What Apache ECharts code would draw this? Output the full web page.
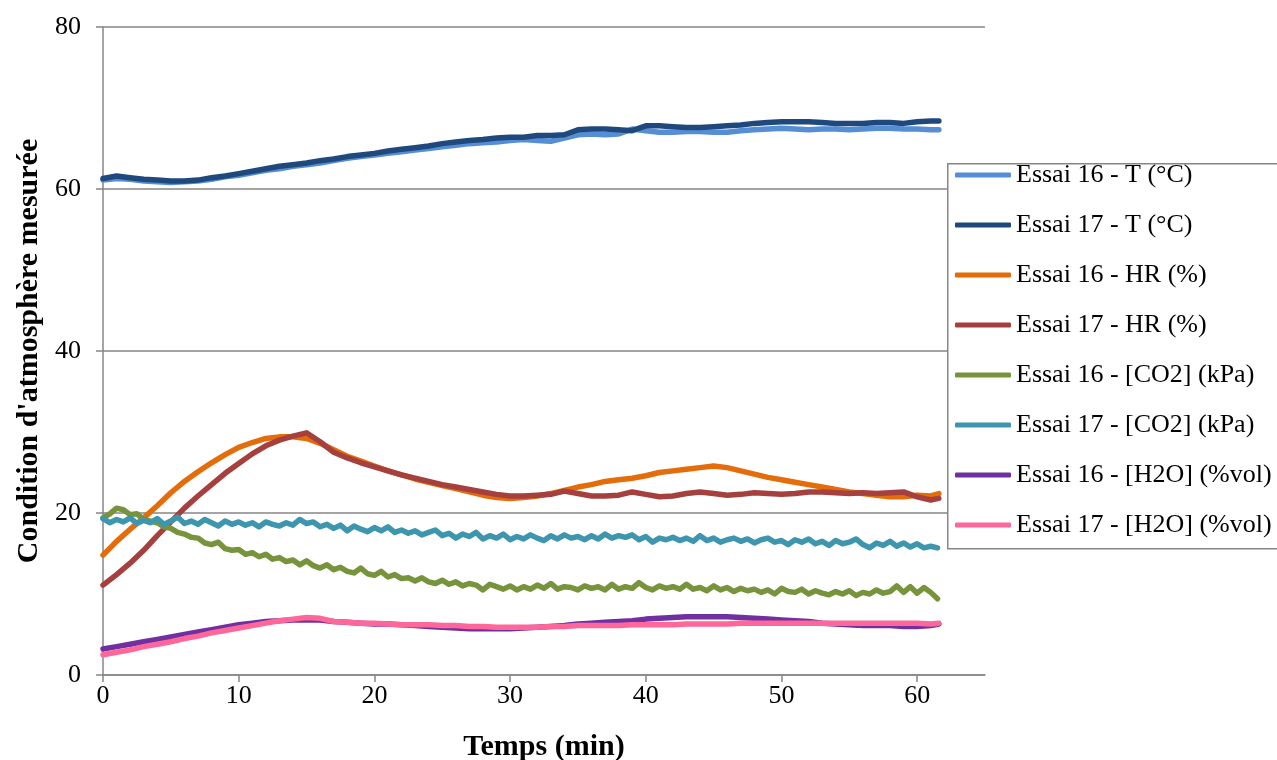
<!DOCTYPE html>
<html>
<head>
<meta charset="utf-8">
<script src="https://cdn.jsdelivr.net/npm/echarts@6/dist/echarts.min.js"></script>
<style>
html,body{margin:0;padding:0;background:#fff;}
#chart{width:1277px;height:760px;}
</style>
</head>
<body>
<div id="chart"></div>
<script>
// Sampling grids (minutes)
var timeCoarse = [0,1,2,3,4,5,6,7,8,9,10,11,12,13,14,15,16,17,18,19,20,21,22,23,24,25,26,27,28,29,30,31,32,33,34,35,36,37,38,39,40,41,42,43,44,45,46,47,48,49,50,51,52,53,54,55,56,57,58,59,60,61,61.6];
var timeFine = [];
for (var i = 0; i < 124; i++) timeFine.push(i * 0.5);

var seriesNames = ["Essai 16 - T (°C)","Essai 17 - T (°C)","Essai 16 - HR (%)","Essai 17 - HR (%)","Essai 16 - [CO2] (kPa)","Essai 17 - [CO2] (kPa)","Essai 16 - [H2O] (%vol)","Essai 17 - [H2O] (%vol)"];
var seriesColors = ["#558ED5","#1F497D","#E46C0A","#A5403E","#77933C","#3E96AE","#7030A0","#FF6699"];

var t16 = [61.1,61.3,61.2,61.0,60.9,60.8,60.9,61.0,61.2,61.5,
 61.7,62.0,62.3,62.5,62.8,63.0,63.2,63.5,63.8,64.0,
 64.2,64.4,64.6,64.8,65.0,65.2,65.4,65.6,65.7,65.8,
 66.0,66.1,66.0,65.9,66.3,66.7,66.8,66.7,66.8,67.4,
 67.2,67.0,67.0,67.1,67.1,67.0,67.0,67.2,67.3,67.4,
 67.5,67.4,67.3,67.4,67.4,67.3,67.4,67.5,67.5,67.4,
 67.4,67.3,67.3];
var t17 = [61.3,61.6,61.4,61.2,61.1,61.0,61.0,61.1,61.4,61.6,
 61.9,62.2,62.5,62.8,63.0,63.2,63.5,63.7,64.0,64.2,
 64.4,64.7,64.9,65.1,65.3,65.6,65.8,66.0,66.1,66.3,
 66.4,66.4,66.6,66.6,66.7,67.3,67.4,67.4,67.3,67.2,
 67.8,67.8,67.7,67.6,67.6,67.7,67.8,67.9,68.1,68.2,
 68.3,68.3,68.3,68.2,68.1,68.1,68.1,68.2,68.2,68.1,
 68.3,68.4,68.4];
var hr16 = [14.8,16.5,18.0,19.4,20.9,22.5,23.9,25.1,26.2,27.2,
 28.1,28.7,29.2,29.4,29.4,29.2,28.6,27.8,27.0,26.4,
 25.8,25.2,24.7,24.2,23.8,23.4,23.0,22.6,22.2,21.9,
 21.8,21.9,22.1,22.4,22.8,23.2,23.5,23.9,24.1,24.3,
 24.6,25.0,25.2,25.4,25.6,25.8,25.6,25.2,24.8,24.4,
 24.1,23.8,23.5,23.2,22.9,22.6,22.4,22.2,22.0,22.0,
 22.2,22.1,22.4];
var hr17 = [11.1,12.4,13.8,15.4,17.2,18.9,20.6,22.1,23.5,24.9,
 26.1,27.3,28.3,29.0,29.5,29.9,28.8,27.5,26.8,26.2,
 25.7,25.2,24.7,24.3,23.9,23.5,23.2,22.9,22.6,22.3,
 22.1,22.1,22.2,22.3,22.7,22.4,22.1,22.1,22.2,22.6,
 22.3,22.0,22.1,22.4,22.6,22.4,22.2,22.3,22.5,22.4,
 22.3,22.4,22.6,22.6,22.5,22.4,22.5,22.4,22.5,22.6,
 22.0,21.6,21.8];
var co2_16 = [19.4,19.9,20.6,20.4,19.8,19.9,19.2,19.0,18.8,18.3,
 18.1,17.6,17.4,17.0,16.9,16.3,16.1,16.4,15.6,15.4,
 15.5,14.9,15.1,14.6,14.9,14.3,14.5,14.0,14.2,13.6,
 14.1,13.5,13.2,13.6,13.0,13.3,12.8,12.6,13.2,12.5,
 12.3,12.8,12.1,12.4,11.9,12.0,11.6,12.0,11.5,11.3,
 11.7,11.2,11.5,11.0,11.3,11.1,10.5,11.2,10.9,10.6,
 11.0,10.5,10.9,10.6,11.1,10.7,11.3,10.6,10.9,10.8,
 10.5,11.0,10.7,10.9,10.5,11.2,10.6,10.9,10.7,11.4,
 10.8,10.5,11.0,10.7,10.9,10.6,11.2,10.6,10.8,10.4,
 11.0,10.5,10.8,10.3,10.7,10.4,10.6,10.2,10.5,10.0,
 10.7,10.3,10.2,10.6,10.0,10.4,10.1,9.9,10.3,10.0,
 10.4,9.8,10.2,10.0,10.5,10.1,10.3,11.0,10.2,10.9,
 10.1,10.8,10.2,9.4];
var co2_17 = [19.3,18.8,19.2,18.9,19.4,18.7,19.1,18.8,19.3,18.6,
 19.0,19.5,18.7,19.0,18.6,19.2,18.8,18.4,19.0,18.6,
 18.9,18.5,18.8,18.3,18.9,18.6,18.4,18.8,18.5,19.2,
 18.7,18.9,18.3,18.6,18.1,18.5,17.8,18.4,18.0,17.7,
 18.2,17.8,18.3,17.6,17.9,17.5,17.8,17.3,17.6,17.9,
 17.2,17.5,16.9,17.4,17.1,17.6,16.8,17.2,16.9,17.4,
 16.7,17.1,16.8,17.3,16.9,16.6,17.2,16.8,17.3,16.9,
 17.1,16.7,17.2,16.8,17.4,16.9,17.2,17.0,17.3,16.7,
 17.1,16.4,16.9,16.7,17.0,16.6,16.9,16.5,17.2,16.6,
 16.9,16.4,16.7,16.9,16.5,16.8,16.3,16.7,16.9,16.4,
 16.6,16.1,16.7,16.4,16.8,16.2,16.5,16.0,16.6,16.2,
 16.4,16.8,16.1,15.7,16.3,16.0,16.5,15.9,16.3,15.8,
 16.2,15.7,15.9,15.7];
var h2o16 = [3.2,3.5,3.8,4.1,4.4,4.7,5.0,5.3,5.6,5.9,
 6.2,6.4,6.6,6.7,6.8,6.8,6.8,6.6,6.5,6.4,
 6.3,6.3,6.2,6.1,6.0,5.9,5.8,5.7,5.7,5.7,
 5.7,5.8,5.9,6.0,6.1,6.3,6.4,6.5,6.6,6.7,
 6.9,7.0,7.1,7.2,7.2,7.2,7.2,7.1,7.0,6.9,
 6.8,6.7,6.6,6.4,6.3,6.2,6.1,6.1,6.1,6.0,
 6.0,6.1,6.3];
var h2o17 = [2.5,2.8,3.1,3.5,3.8,4.1,4.5,4.8,5.2,5.5,
 5.8,6.1,6.4,6.7,6.9,7.1,7.0,6.6,6.5,6.4,
 6.4,6.3,6.2,6.2,6.2,6.1,6.1,6.0,6.0,5.9,
 5.9,5.9,5.9,6.0,6.0,6.1,6.1,6.1,6.1,6.2,
 6.2,6.2,6.2,6.3,6.3,6.3,6.3,6.4,6.4,6.4,
 6.4,6.4,6.4,6.4,6.4,6.4,6.4,6.4,6.4,6.4,
 6.4,6.3,6.4];

var xTickValues = [0,10,20,30,40,50,60];

function pairs(xs, ys){ return ys.map(function(v,i){ return [xs[i], v]; }); }

var seriesData = [
  pairs(timeCoarse, t16), pairs(timeCoarse, t17),
  pairs(timeCoarse, hr16), pairs(timeCoarse, hr17),
  pairs(timeFine, co2_16), pairs(timeFine, co2_17),
  pairs(timeCoarse, h2o16), pairs(timeCoarse, h2o17)
];

var FONT = '"Liberation Serif", "DejaVu Serif", serif';
var AX = '#868686';

var chart = echarts.init(document.getElementById('chart'), null, {renderer:'canvas'});
chart.setOption({
  animation:false,
  backgroundColor:'#fff',
  textStyle:{fontFamily:FONT},
  grid:{left:103, right:292, top:27, bottom:85, outerBoundsMode:'none', containLabel:false},
  graphic:[{
    type:'rect', left:947, top:163, z:5, silent:true,
    shape:{width:400, height:385},
    style:{fill:'#fff', stroke:AX, lineWidth:1.5}
  }],
  legend:{
    orient:'vertical', left:947, top:162, z:10,
    padding:[0,10,10,8],
    itemWidth:56, itemHeight:5, itemGap:24,
    icon:'roundRect',
    textStyle:{fontFamily:FONT, fontSize:26, color:'#000', lineHeight:26},
    data:seriesNames
  },
  xAxis:{
    type:'value', min:0, max:65, interval:10,
    name:'Temps (min)', nameLocation:'middle', nameGap:57,
    nameTextStyle:{fontFamily:FONT, fontSize:30, fontWeight:'bold', color:'#000'},
    axisLine:{show:true, lineStyle:{color:AX, width:1.5}},
    axisTick:{show:true, length:7, lineStyle:{color:AX, width:1.5}, customValues:xTickValues},
    axisLabel:{fontFamily:FONT, fontSize:26, color:'#000', margin:8, customValues:xTickValues},
    splitLine:{show:false}
  },
  yAxis:{
    type:'value', min:0, max:80, interval:20,
    name:"Condition d'atmosphère mesurée", nameLocation:'middle', nameGap:59,
    nameTextStyle:{fontFamily:FONT, fontSize:30, fontWeight:'bold', color:'#000'},
    axisLine:{show:true, lineStyle:{color:AX, width:1.5}},
    axisTick:{show:true, length:7, lineStyle:{color:AX, width:1.5}},
    axisLabel:{fontFamily:FONT, fontSize:26, color:'#000', margin:22},
    splitLine:{show:true, lineStyle:{color:AX, width:1.5}}
  },
  series: seriesNames.map(function(n, k){
    return {
      name:n, type:'line', data:seriesData[k],
      showSymbol:false, symbol:'none', smooth:false,
      color:seriesColors[k],
      lineStyle:{width:5.5, color:seriesColors[k], cap:'round', join:'round'},
      itemStyle:{color:seriesColors[k]},
      emphasis:{disabled:true}
    };
  })
});
</script>
</body>
</html>
